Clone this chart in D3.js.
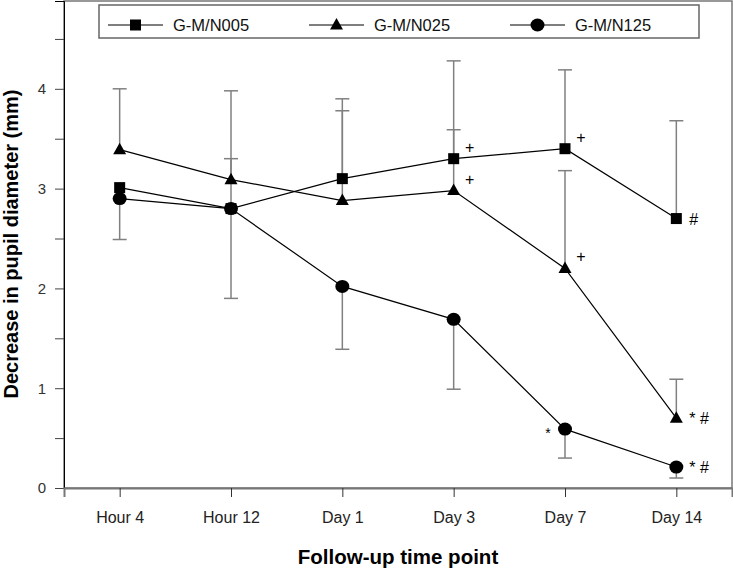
<!DOCTYPE html>
<html><head><meta charset="utf-8">
<script src="https://cdn.jsdelivr.net/npm/d3@7"></script>
<style>body{margin:0;background:#fff}svg{display:block;font-family:"Liberation Sans",Arial,sans-serif}</style>
</head><body><svg id="c" width="733" height="568"></svg>
<script>
const categories = ["Hour 4","Hour 12","Day 1","Day 3","Day 7","Day 14"];
const seriesNames = ["G-M/N005","G-M/N025","G-M/N125"];
const n005 = [3.01, 2.80, 3.10, 3.30, 3.40, 2.70];
const n025 = [3.39, 3.09, 2.88, 2.98, 2.20, 0.70];
const n125 = [2.90, 2.80, 2.02, 1.69, 0.59, 0.21];
const n005Upper = [null, 3.30, 3.90, 4.28, 4.19, 3.68];
const n025Upper = [4.00, 3.98, 3.78, 3.59, 3.18, 1.09];
const n125Lower = [2.49, 1.90, 1.39, 0.99, 0.30, 0.10];
const yTicks = [0,0.5,1,1.5,2,2.5,3,3.5,4,4.5];
const yLabels = ["0","","1","","2","","3","","4",""];
const annotations = [
  {s:0, i:3, t:"+", side:"r"}, {s:1, i:3, t:"+", side:"r"},
  {s:0, i:4, t:"+", side:"r"}, {s:1, i:4, t:"+", side:"r"},
  {s:0, i:5, t:"#", side:"r"}, {s:1, i:5, t:"* #", side:"r"},
  {s:2, i:5, t:"* #", side:"r"}, {s:2, i:4, t:"*", side:"l"}
];

const svg = d3.select("#c");
const L=64, R=732, T=1, B=488;
const x = d3.scalePoint().domain(categories).range([L,R]).padding(0.5);
const y = d3.scaleLinear().domain([0,4.88]).range([B,T]);

const series = [
  {name:seriesNames[0], vals:n005, err:n005Upper, shape:"square", ec:"#808080"},
  {name:seriesNames[1], vals:n025, err:n025Upper, shape:"triangle", ec:"#808080"},
  {name:seriesNames[2], vals:n125, err:n125Lower, shape:"circle", ec:"#808080"}
];

svg.append("rect").attr("x",L).attr("y",T).attr("width",R-L).attr("height",B-T)
  .attr("fill","none").attr("stroke","#777").attr("stroke-width",1.5);

const yAxis = d3.axisLeft(y).tickValues(yTicks).tickFormat((d,i)=>yLabels[i]).tickSize(9).tickPadding(9);
const gy = svg.append("g").attr("transform",`translate(${L},0)`).call(yAxis);
gy.select(".domain").attr("stroke","#000").attr("stroke-width",1);
gy.selectAll(".tick line").attr("stroke","#444");
gy.selectAll("text").attr("font-size",15).attr("fill","#333").attr("font-family","Liberation Sans, Arial, sans-serif");

const xAxis = d3.axisBottom(x).tickSize(9).tickPadding(15);
const gx = svg.append("g").attr("transform",`translate(0,${B})`).call(xAxis);
gx.select(".domain").attr("stroke","#777").attr("stroke-width",2);
gx.selectAll(".tick line").attr("stroke","#333");
gx.selectAll("text").attr("font-size",16).attr("fill","#222").attr("font-family","Liberation Sans, Arial, sans-serif");

svg.append("text").attr("x",398).attr("y",564).attr("text-anchor","middle")
  .attr("font-size",20.5).attr("font-weight","bold").text("Follow-up time point");
svg.append("text").attr("transform","translate(18,244) rotate(-90)").attr("text-anchor","middle")
  .attr("font-size",20).attr("font-weight","bold").text("Decrease in pupil diameter (mm)");

series.forEach(s=>{
  s.err.forEach((e,i)=>{
    if(e==null) return;
    const cx = x(categories[i]);
    svg.append("line").attr("x1",cx).attr("x2",cx).attr("y1",y(s.vals[i])).attr("y2",y(e))
      .attr("stroke",s.ec).attr("stroke-width",1.5);
    svg.append("line").attr("x1",cx-7).attr("x2",cx+7).attr("y1",y(e)).attr("y2",y(e))
      .attr("stroke",s.ec).attr("stroke-width",1.5);
  });
});

const line = d3.line().x((d,i)=>x(categories[i])).y(d=>y(d));
series.forEach(s=>{
  svg.append("path").attr("d",line(s.vals)).attr("fill","none").attr("stroke","#000").attr("stroke-width",1.2);
});

function marker(g, shape, cx, cy){
  if(shape==="square") g.append("rect").attr("x",cx-5.5).attr("y",cy-5.5).attr("width",11).attr("height",11).attr("fill","#000");
  else if(shape==="triangle") g.append("path").attr("d",`M${cx},${cy-7}L${cx+6.5},${cy+4.5}L${cx-6.5},${cy+4.5}Z`).attr("fill","#000");
  else g.append("ellipse").attr("cx",cx).attr("cy",cy).attr("rx",7).attr("ry",6.5).attr("fill","#000");
}
[2,1,0].forEach(k=>{
  const s=series[k];
  s.vals.forEach((v,i)=>marker(svg, s.shape, x(categories[i]), y(v)));
});

annotations.forEach(a=>{
  const s=series[a.s];
  const cx=x(categories[a.i]), cy=y(s.vals[a.i]);
  if(a.t==="+"){
    svg.append("text").attr("x",cx+16).attr("y",cy-6).attr("font-size",16).attr("text-anchor","middle").attr("fill","#000").text("+");
  } else if(a.side==="l"){
    svg.append("text").attr("x",cx-17).attr("y",cy+9).attr("font-size",14).attr("text-anchor","middle").text(a.t);
  } else {
    svg.append("text").attr("x",cx+13).attr("y",cy+6).attr("font-size",16).text(a.t);
  }
});

const lg = svg.append("g");
lg.append("rect").attr("x",99).attr("y",5).attr("width",600).attr("height",33)
  .attr("fill","#fff").attr("stroke","#666").attr("stroke-width",1.5);
const legX = [108, 309, 510];
series.forEach((s,k)=>{
  const x0=legX[k], cy=22;
  lg.append("line").attr("x1",x0).attr("x2",x0+55).attr("y1",cy+3).attr("y2",cy+3).attr("stroke","#000").attr("stroke-width",1.2);
  marker(lg, s.shape, x0+27.5, cy+3);
  lg.append("text").attr("x",x0+65).attr("y",cy+9).attr("font-size",16.5).attr("fill","#111").text(s.name);
});
</script></body></html>
